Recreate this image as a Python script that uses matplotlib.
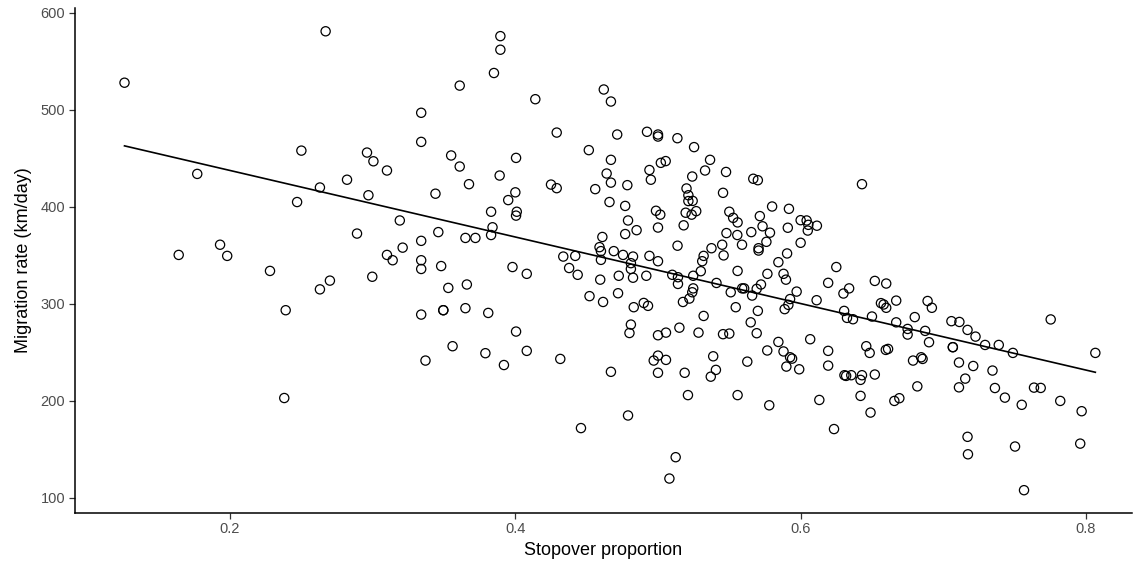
import numpy as np
import matplotlib
matplotlib.use("Agg")
import matplotlib.pyplot as plt

plt.rcParams["font.family"] = ["Liberation Sans", "DejaVu Sans"]

# values
stopover = [
    0.126, 0.267, 0.177, 0.250, 0.282, 0.263, 0.247, 0.193, 0.164, 0.198,
    0.289, 0.228, 0.270, 0.263, 0.239, 0.238,
    0.3895, 0.3895, 0.385, 0.361, 0.414, 0.334, 0.334, 0.296, 0.3005, 0.310,
    0.355, 0.361, 0.3675, 0.4005, 0.389, 0.400, 0.395, 0.401, 0.4005, 0.383,
    0.384, 0.383, 0.372, 0.365, 0.346, 0.334, 0.344, 0.319, 0.297, 0.321,
    0.310, 0.314, 0.334,
    0.334, 0.348, 0.2997, 0.398, 0.408, 0.353, 0.366, 0.334, 0.3495, 0.3495,
    0.365, 0.381, 0.4005, 0.356, 0.379, 0.408, 0.392, 0.337,
    0.462, 0.467, 0.429, 0.4714, 0.4923, 0.500, 0.500, 0.5136, 0.5253, 0.5365,
    0.4515, 0.467, 0.464, 0.467, 0.4785, 0.425, 0.429, 0.456, 0.466, 0.477,
    0.479, 0.485, 0.477, 0.461, 0.494, 0.495, 0.502, 0.5054, 0.4986, 0.5016,
    0.500, 0.518, 0.5137, 0.524, 0.533, 0.520, 0.5213, 0.5213, 0.5243, 0.5194,
    0.5236, 0.5268, 0.459, 0.460, 0.469, 0.4755, 0.4825, 0.494, 0.4336, 0.442,
    0.532, 0.5375,
    0.460, 0.481, 0.481, 0.4825, 0.500, 0.4377, 0.4437, 0.4595, 0.4725, 0.4918,
    0.510, 0.514, 0.514, 0.5247, 0.530, 0.531, 0.452, 0.4615, 0.472, 0.483,
    0.490, 0.493, 0.5175, 0.522, 0.524, 0.5247, 0.532, 0.481, 0.480, 0.500,
    0.5056, 0.515, 0.5284, 0.4315, 0.467, 0.500, 0.497, 0.5056, 0.500, 0.5187,
    0.521, 0.479, 0.446, 0.5124, 0.508,
    0.5477, 0.5668, 0.570, 0.643, 0.5456, 0.550, 0.5527, 0.5558, 0.580, 0.5918,
    0.5714, 0.5733, 0.5785, 0.591, 0.600, 0.6042, 0.6054, 0.605, 0.6114, 0.548,
    0.5556, 0.5654, 0.5589, 0.545, 0.546, 0.5705, 0.5705, 0.576, 0.600, 0.5905,
    0.5844, 0.5558, 0.5767, 0.588, 0.5897, 0.5722, 0.5692, 0.559, 0.5604, 0.566,
    0.551, 0.541, 0.5972, 0.5926, 0.5914, 0.5888, 0.6112, 0.625, 0.6193, 0.630,
    0.634, 0.6305, 0.6325, 0.6367, 0.652, 0.660, 0.667, 0.6563, 0.6582, 0.660,
    0.650, 0.667, 0.5545, 0.570, 0.565, 0.5456, 0.550, 0.5692, 0.5844, 0.6067,
    0.5766, 0.588, 0.5926, 0.594, 0.590, 0.599, 0.6193, 0.6193, 0.646, 0.6484,
    0.6597, 0.6613, 0.5387, 0.5406, 0.537, 0.5626, 0.6307, 0.6319, 0.6355, 0.643,
    0.642, 0.652, 0.642, 0.6131, 0.5558, 0.578, 0.649, 0.6234, 0.6657, 0.6692,
    0.689, 0.692, 0.680, 0.675, 0.675, 0.6873, 0.690, 0.6788, 0.6845, 0.6855,
    0.6818, 0.7057, 0.7113, 0.717, 0.7226, 0.7067, 0.7067, 0.711, 0.721, 0.7154,
    0.711, 0.7293, 0.7389, 0.7488, 0.7345, 0.7362, 0.7432, 0.755, 0.7636, 0.7683,
    0.7753, 0.782, 0.797, 0.8066, 0.717, 0.7173, 0.7503, 0.796, 0.7566,
]

migration_rate = [
    528, 581, 434, 458, 428, 420, 405, 361, 350.5, 349.5,
    372.5, 334, 324, 315, 293.5, 203,
    576, 562, 538, 525, 511, 497, 467, 456, 447, 437.5,
    453, 441.6, 423.4, 450.5, 432.3, 415, 407, 395, 391, 395,
    379, 371, 368, 368, 374, 365, 413.6, 386, 412, 358,
    350.5, 345, 345,
    336, 339, 328, 338, 331, 316.5, 320, 289, 293.5, 293.5,
    295.6, 290.7, 271.5, 256.4, 249.2, 251.6, 237, 241.6,
    521, 508.6, 476.6, 474.6, 477.4, 474.6, 472.5, 470.8, 461.6, 448.5,
    458.5, 448.5, 434.4, 425, 422.4, 423, 419.3, 418.3, 405, 401,
    386, 376, 372, 369, 438, 428, 445.4, 447.2, 396, 392,
    378.7, 381, 360, 431.3, 437.5, 419, 412, 406, 406.2, 394,
    392, 395.6, 358.5, 354.4, 354.4, 350.5, 348.8, 349.5, 348.8, 349.5,
    349.5, 357.4,
    345.4, 342, 336, 327, 344, 337, 330, 325, 329, 329,
    330, 327.5, 320.6, 329, 333.7, 344, 308, 302, 311, 296.6,
    301, 298, 302, 305.5, 312, 316, 287.6, 278.7, 270, 267.7,
    270.4, 275.5, 270.4, 243.3, 230, 246.7, 241.6, 242.3, 229, 229,
    206, 185, 172, 142, 120,
    436, 429, 427.5, 423.4, 414.5, 395, 388.7, 384, 400.4, 398,
    390.5, 380, 373.4, 378.5, 386.3, 386, 381.5, 375.6, 380.6, 373,
    371, 374, 361, 361, 350, 357.4, 355, 364, 363, 352,
    343, 334, 331, 331, 325, 320, 315.5, 316, 316, 308.6,
    312, 321.6, 312.7, 305, 299, 294.6, 303.8, 338, 321.7, 310.7,
    316, 292.8, 285.6, 284.2, 323.7, 321, 303.4, 300.8, 299.4, 296,
    287, 281, 296.6, 292.8, 281, 268.8, 269.4, 269.8, 260.8, 263.6,
    252, 251, 245, 243.6, 235.4, 232.6, 251.6, 236.4, 256.4, 249.5,
    252.6, 253.6, 246, 232, 225, 240.5, 226.5, 225.8, 226.5, 226.5,
    221.7, 227.2, 205.2, 201, 206, 195.5, 188, 171, 200, 202.8,
    303, 296, 286.4, 274.2, 268.4, 272.2, 260.5, 241.6, 245, 243.3,
    215, 282.2, 281.4, 273.2, 266.3, 255.4, 255.4, 239.6, 236, 223,
    214, 257.7, 257.7, 249.5, 231.3, 213.3, 203.4, 196, 213.7, 213.4,
    284, 200, 189.4, 249.5, 163, 145, 153, 156, 108,
]

x_ticks = [0.2, 0.4, 0.6, 0.8]
y_ticks = [100, 200, 300, 400, 500, 600]

x = np.array(stopover)
y = np.array(migration_rate)

fig = plt.figure(figsize=(11.34, 5.69), dpi=100)
ax = fig.add_axes([75 / 1134, 1 - 512.5 / 569, 1057 / 1134, 504.5 / 569])

ax.scatter(x, y, s=44, facecolors="none", edgecolors="black", linewidths=0.9, zorder=3)

# linear fit over the data range (like geom_smooth(method = "lm"))
slope, intercept = np.polyfit(x, y, 1)
xs = np.array([x.min(), x.max()])
ax.plot(xs, intercept + slope * xs, color="black", lw=1.2, zorder=2)

ax.set_xlim(0.0913, 0.8323)
ax.set_ylim(85, 605)
ax.set_xticks(x_ticks)
ax.set_yticks(y_ticks)
ax.set_xticklabels([str(t) for t in x_ticks])

for side in ["top", "right"]:
    ax.spines[side].set_visible(False)
for side in ["left", "bottom"]:
    ax.spines[side].set_linewidth(1.1)
    ax.spines[side].set_color("black")

ax.tick_params(axis="both", length=4, width=0.9, color="#333333",
               labelcolor="#4d4d4d", labelsize=10.5, pad=3)
ax.set_xlabel("Stopover proportion", fontsize=13, labelpad=4)
ax.set_ylabel("Migration rate (km/day)", fontsize=13, labelpad=6)

fig.savefig("out.png", dpi=100)
